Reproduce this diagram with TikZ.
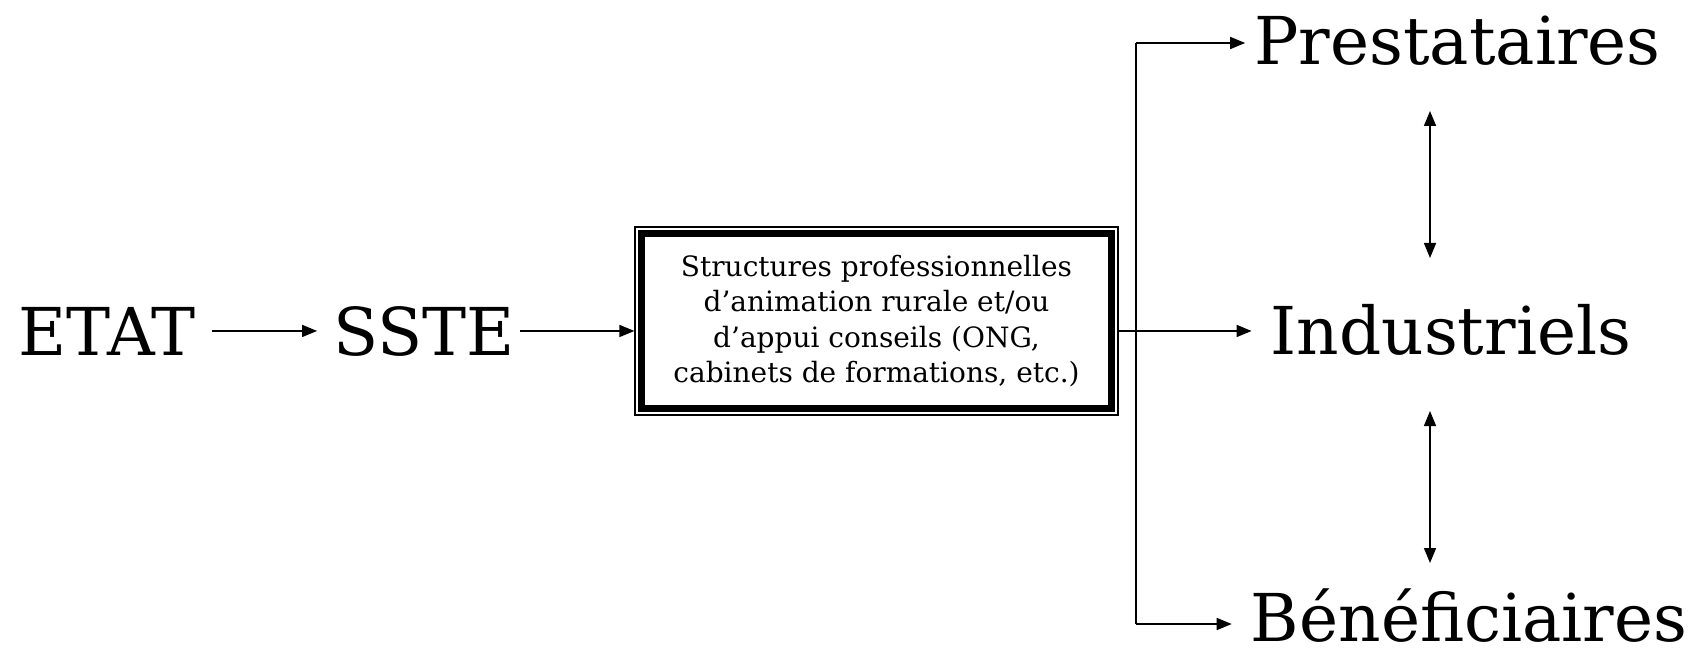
\documentclass[tikz,border=0pt]{standalone}
\usepackage{fontspec}
\setmainfont{DejaVu Serif}
\usetikzlibrary{arrows.meta}
\begin{document}
\begin{tikzpicture}[x=1pt,y=1pt,
  big/.style={font=\fontsize{66}{80}\selectfont, inner sep=0pt, anchor=base},
  arr/.style={line width=1.5pt, -{Triangle[length=15pt,width=12pt]}},
  darr/.style={line width=1.5pt, {Triangle[length=15pt,width=12pt]}-{Triangle[length=15pt,width=12pt]}},
  mainbox/.style={draw, line width=1.2pt, minimum width=483pt, minimum height=188pt,
    align=center, inner sep=0pt, font=\fontsize{28}{35.5}\selectfont}]
\useasboundingbox (0,0) rectangle (1696,649);

% left chain
\node[big] (etat) at (107,294) {ETAT};
\node[big] (sste) at (424,294) {SSTE};
\node[mainbox] (box) at (876.5,328) {Structures professionnelles\\d’animation rurale et/ou\\d’appui conseils (ONG,\\cabinets de formations, etc.)};
\draw[line width=6.5pt] ([shift={(7,-7)}]box.north west) rectangle ([shift={(-7,7)}]box.south east);

% right column
\node[big] (pre) at (1457.5,584) {Prestataires};
\node[big] (ind) at (1451,295) {Industriels};
\node[big] (ben) at (1469,8) {Bénéficiaires};

% connectors
\draw[arr, shorten <=16pt, shorten >=16pt] (etat.east) -- (etat.east -| sste.west);
\draw[arr, shorten <=5pt] (sste.east) -- (sste.east -| box.west);
\coordinate (out) at (box.east |- sste.east);
\draw[arr, shorten >=19pt] (out) -- (out -| ind.west);

\coordinate (top) at (1136,606);
\coordinate (bot) at (1136,25);
\draw[line width=1.5pt] (top) -- (bot);
\draw[arr, shorten >=9pt] (top) -- (top -| pre.west);
\draw[arr, shorten >=19pt] (bot) -- (bot -| ben.west);

\coordinate (u1) at (1430,538);
\coordinate (u2) at (1430,391);
\coordinate (l1) at (1430,238);
\coordinate (l2) at (1430,86);
\draw[darr] (u1) -- (u2);
\draw[darr] (l1) -- (l2);
\end{tikzpicture}
\end{document}
